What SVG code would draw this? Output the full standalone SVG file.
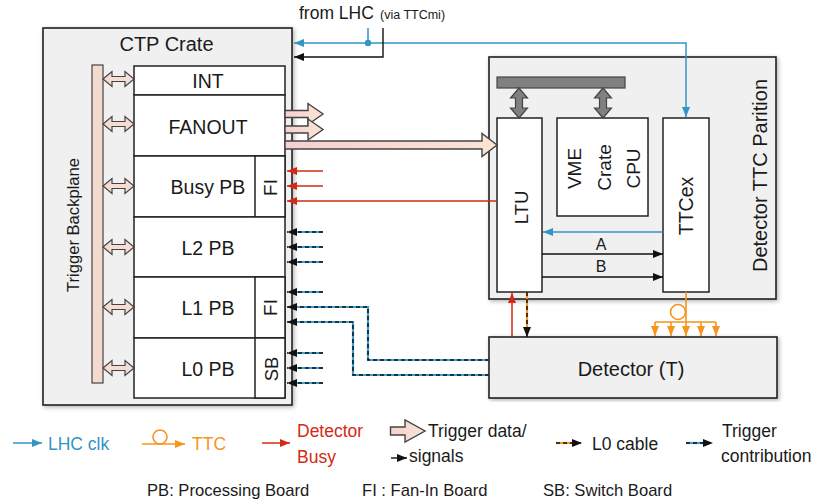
<svg xmlns="http://www.w3.org/2000/svg" width="813" height="502" viewBox="0 0 813 502">
<style>
text{font-family:"Liberation Sans",Arial,sans-serif;fill:#1a1a1a}
.box{fill:#f0f0f0;stroke:#222;stroke-width:1.6}
.brd{fill:#fff;stroke:#222;stroke-width:1.5}
.lbl{font-size:19.5px;text-anchor:middle}
.lg{font-size:17.5px}
.bt{font-size:16.6px}
.fat{stroke:#444;stroke-width:1.4;fill:url(#gfat)}
.dbl{fill:#f5ddd3;stroke:#444;stroke-width:1.2}
.gdbl{fill:#808080;stroke:#444;stroke-width:1.2}
.blk{fill:none;stroke:#111;stroke-width:1.4}
.blu{fill:none;stroke:#3394c6;stroke-width:1.5}
.red{fill:none;stroke:#d42a14;stroke-width:1.5}
.org{fill:none;stroke:#f7941d;stroke-width:1.6}
.tcb{fill:none;stroke:#3aa0d8;stroke-width:2.2}
.tcd{fill:none;stroke:#111;stroke-width:1.5;stroke-dasharray:4 3}
.l0o{fill:none;stroke:#f7941d;stroke-width:2.2}
</style>
<defs>
<filter id="sh" x="-5%" y="-5%" width="110%" height="110%">
<feDropShadow dx="1.5" dy="1.5" stdDeviation="2" flood-color="#000" flood-opacity="0.3"/>
</filter>
<linearGradient id="gfat" x1="0" y1="0" x2="1" y2="0">
<stop offset="0" stop-color="#f5d0d0"/>
<stop offset="1" stop-color="#fbe4d5"/>
</linearGradient>
<marker id="mk" viewBox="0 0 10 8" refX="10" refY="4" markerWidth="10" markerHeight="8" markerUnits="userSpaceOnUse" orient="auto"><path d="M0,0 L10,4 L0,8 z" fill="#111"/></marker>
<marker id="mb" viewBox="0 0 10 8" refX="10" refY="4" markerWidth="10" markerHeight="8" markerUnits="userSpaceOnUse" orient="auto"><path d="M0,0 L10,4 L0,8 z" fill="#3394c6"/></marker>
<marker id="mr" viewBox="0 0 10 8" refX="10" refY="4" markerWidth="10" markerHeight="8" markerUnits="userSpaceOnUse" orient="auto"><path d="M0,0 L10,4 L0,8 z" fill="#d42a14"/></marker>
<marker id="mo" viewBox="0 0 10 8" refX="10" refY="4" markerWidth="10" markerHeight="8" markerUnits="userSpaceOnUse" orient="auto"><path d="M0,0 L10,4 L0,8 z" fill="#f7941d"/></marker>
<polygon id="dbla" points="0,0 9,-7.5 9,-2.5 22,-2.5 22,-7.5 31,0 22,7.5 22,2.5 9,2.5 9,7.5"/>
<polygon id="gdba" points="0,0 -8.5,10 -3.5,10 -3.5,20 -8.5,20 0,30 8.5,20 3.5,20 3.5,10 8.5,10"/>
</defs>

<g id="ctp-crate">
<rect class="box" x="43" y="28" width="249" height="377" filter="url(#sh)"/>
<text x="166.5" y="51" class="lbl" style="font-size:20px">CTP Crate</text>
</g>
<g id="backplane">
<rect x="92" y="65" width="11" height="318" fill="#f4dace" stroke="#444" stroke-width="1.2"/>
<text class="lbl" style="font-size:16.6px" transform="translate(79,225) rotate(-90)">Trigger Backplane</text>
</g>
<g id="int"><rect class="brd" x="134" y="66" width="151" height="29"/><text class="lbl" x="208" y="88">INT</text></g>
<g id="fanout"><rect class="brd" x="134" y="95" width="151" height="61"/><text class="lbl" x="208" y="134">FANOUT</text></g>
<g id="busy-pb"><rect class="brd" x="134" y="156" width="151" height="61"/><rect class="brd" x="255" y="156" width="30" height="61"/><text class="lbl" x="208" y="194">Busy PB</text><text class="lbl" style="font-size:19px" transform="translate(277,187.5) rotate(-90)">FI</text></g>
<g id="l2-pb"><rect class="brd" x="134" y="217" width="151" height="60"/><text class="lbl" x="208" y="255">L2 PB</text></g>
<g id="l1-pb"><rect class="brd" x="134" y="277" width="151" height="61"/><rect class="brd" x="255" y="277" width="30" height="61"/><text class="lbl" x="208" y="315">L1 PB</text><text class="lbl" style="font-size:19px" transform="translate(277,307.5) rotate(-90)">FI</text></g>
<g id="l0-pb"><rect class="brd" x="134" y="338" width="151" height="60"/><rect class="brd" x="255" y="338" width="30" height="60"/><text class="lbl" x="208" y="376">L0 PB</text><text class="lbl" style="font-size:18.5px" transform="translate(277.5,369) rotate(-90)">SB</text></g>

<g id="partition">
<rect class="box" x="489" y="57" width="287" height="242" filter="url(#sh)"/>
<rect x="497" y="77" width="128" height="11" fill="#808080" stroke="#444" stroke-width="1.2"/>
<text class="lbl" style="font-size:20px" transform="translate(766.5,175.5) rotate(-90)">Detector TTC Parition</text>
</g>
<g id="ltu"><rect class="brd" x="497" y="118" width="45" height="174"/><text class="lbl" style="font-size:18.5px" transform="translate(528,207.5) rotate(-90)">LTU</text></g>
<g id="vme"><rect class="brd" x="557" y="118" width="91" height="98"/>
<text class="lbl" style="font-size:19px" transform="translate(581,168.5) rotate(-90)">VME</text>
<text class="lbl" style="font-size:19px" transform="translate(610.5,167.5) rotate(-90)">Crate</text>
<text class="lbl" style="font-size:19px" transform="translate(640,168.5) rotate(-90)">CPU</text></g>
<g id="ttcex"><rect class="brd" x="663" y="118" width="46" height="174"/><text class="lbl" style="font-size:19.5px" transform="translate(692.5,206) rotate(-90)">TTCex</text></g>
<g id="detector"><rect class="box" x="489" y="337" width="288" height="61" filter="url(#sh)"/><text class="lbl" style="font-size:20px" x="631" y="376">Detector (T)</text></g>

<g id="source">
<text x="299" y="18.5" style="font-size:17.5px">from LHC</text>
<text x="380" y="18.5" style="font-size:12.5px">(via TTCmi)</text>
</g>

<g id="connectors">
<use href="#dbla" class="dbl" x="103" y="79"/>
<use href="#dbla" class="dbl" x="103" y="124"/>
<use href="#dbla" class="dbl" x="103" y="186"/>
<use href="#dbla" class="dbl" x="103" y="247"/>
<use href="#dbla" class="dbl" x="103" y="307"/>
<use href="#dbla" class="dbl" x="103" y="368"/>
<use href="#gdba" class="gdbl" x="519" y="88"/>
<use href="#gdba" class="gdbl" x="603" y="88"/>

<path class="blu" d="M368,28 V43"/>
<path class="blu" d="M368,43 H294" marker-end="url(#mb)"/>
<path class="blu" d="M368,43 H686 V117" marker-end="url(#mb)"/>
<circle cx="368" cy="43" r="3.2" fill="#3394c6"/>
<path class="blk" d="M383,28 V57 H294" marker-end="url(#mk)"/>

<polygon class="fat" points="285,110.5 308,110.5 308,103.5 323,114 308,124.5 308,117.5 285,117.5"/>
<polygon class="fat" points="285,126 308,126 308,119 323,129.5 308,140 308,133 285,133"/>
<polygon class="fat" points="285,141 482,141 482,133.5 497,145 482,156.5 482,149 285,149"/>

<path class="red" d="M323,171 H287" marker-end="url(#mr)"/>
<path class="red" d="M323,186 H287" marker-end="url(#mr)"/>
<path class="red" d="M497,201 H287" marker-end="url(#mr)"/>

<g>
<path class="tcb" d="M323,232 H292 M323,247 H292 M323,262 H292 M323,292 H292 M323,353 H292 M323,368 H292 M323,383 H292 M489,360 H368 V307 H292 M489,375 H353 V322 H292"/>
<path class="tcd" d="M323,232 H287" marker-end="url(#mk)"/>
<path class="tcd" d="M323,247 H287" marker-end="url(#mk)"/>
<path class="tcd" d="M323,262 H287" marker-end="url(#mk)"/>
<path class="tcd" d="M323,292 H287" marker-end="url(#mk)"/>
<path class="tcd" d="M489,360 H368 V307 H287" marker-end="url(#mk)"/>
<path class="tcd" d="M489,375 H353 V322 H287" marker-end="url(#mk)"/>
<path class="tcd" d="M323,353 H287" marker-end="url(#mk)"/>
<path class="tcd" d="M323,368 H287" marker-end="url(#mk)"/>
<path class="tcd" d="M323,383 H287" marker-end="url(#mk)"/>
</g>

<path class="blu" d="M663,232 H543" marker-end="url(#mb)"/>
<path class="blk" d="M542,254 H663" marker-end="url(#mk)"/>
<path class="blk" d="M542,277 H663" marker-end="url(#mk)"/>
<text x="601" y="250" style="font-size:16px;text-anchor:middle">A</text>
<text x="601" y="272" style="font-size:16px;text-anchor:middle">B</text>

<path class="red" d="M512,337 V293" marker-end="url(#mr)"/>
<path class="l0o" d="M527,292 V332"/>
<path class="tcd" d="M527,292 V337" marker-end="url(#mk)"/>

<path class="org" d="M686,292 V322 M655,322 H716"/>
<circle cx="678" cy="312" r="7.5" fill="none" stroke="#f7941d" stroke-width="1.6"/>
<path class="org" d="M655,322 V336" marker-end="url(#mo)"/>
<path class="org" d="M671,322 V336" marker-end="url(#mo)"/>
<path class="org" d="M686,322 V336" marker-end="url(#mo)"/>
<path class="org" d="M701,322 V336" marker-end="url(#mo)"/>
<path class="org" d="M716,322 V336" marker-end="url(#mo)"/>
</g>

<g id="legend">
<path class="blu" d="M13,443 H42" marker-end="url(#mb)"/>
<text class="lg" x="48" y="450" style="fill:#3394c6">LHC clk</text>
<path class="org" d="M142,444 H185" marker-end="url(#mo)"/>
<circle cx="160" cy="437" r="7" fill="none" stroke="#f7941d" stroke-width="1.6"/>
<text class="lg" x="192" y="450" style="fill:#f7941d">TTC</text>
<path class="red" d="M262,443 H290" marker-end="url(#mr)"/>
<text class="lg" x="297" y="437" style="fill:#d42a14">Detector</text>
<text class="lg" x="297" y="463" style="fill:#d42a14">Busy</text>
<polygon class="fat" points="390.5,427 405,427 405,420 425,431 405,442 405,435 390.5,435"/>
<text class="lg" x="428" y="437">Trigger data/</text>
<path class="blk" d="M391,458 H407" marker-end="url(#mk)"/>
<text class="lg" x="409" y="462">signals</text>
<path class="l0o" d="M556,443 H578"/>
<path class="tcd" d="M556,443 H582" marker-end="url(#mk)"/>
<text class="lg" x="592" y="450">L0 cable</text>
<path class="tcb" d="M686,443 H708"/>
<path class="tcd" d="M686,443 H713" marker-end="url(#mk)"/>
<text class="lg" x="722" y="437">Trigger</text>
<text class="lg" x="721" y="462">contribution</text>
<text class="bt" x="147" y="496">PB: Processing Board</text>
<text class="bt" x="362" y="496">FI : Fan-In Board</text>
<text class="bt" x="543" y="496">SB: Switch Board</text>
</g>
</svg>
